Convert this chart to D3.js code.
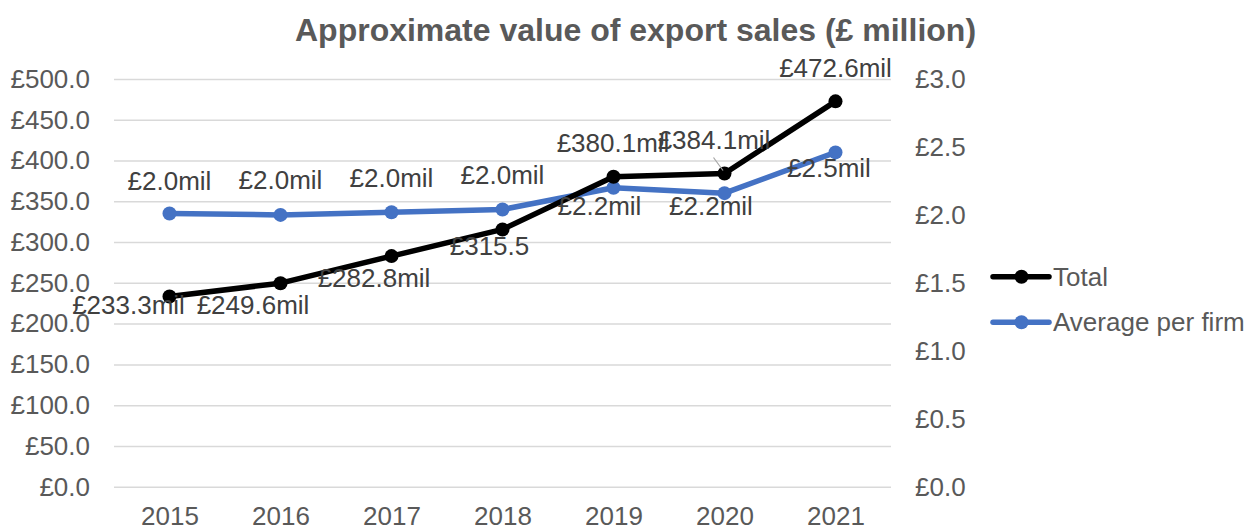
<!DOCTYPE html>
<html>
<head>
<meta charset="utf-8">
<script src="https://cdn.jsdelivr.net/npm/d3@7/dist/d3.min.js"></script>
<style>
  html, body { margin: 0; padding: 0; background: #fff; }
  svg { display: block; font-family: "Liberation Sans", Arial, sans-serif; }
</style>
</head>
<body>
<svg id="chart" width="1256" height="530"></svg>
<script>
// ---- data ----
const years = ["2015", "2016", "2017", "2018", "2019", "2020", "2021"];
const totalValues = [233.3, 249.6, 282.8, 315.5, 380.1, 384.1, 472.6];
const totalLabels = ["£233.3mil", "£249.6mil", "£282.8mil", "£315.5", "£380.1mil", "£384.1mil", "£472.6mil"];
const averageValues = [2.01, 2.0, 2.02, 2.04, 2.2, 2.16, 2.46];
const averageLabels = ["£2.0mil", "£2.0mil", "£2.0mil", "£2.0mil", "£2.2mil", "£2.2mil", "£2.5mil"];
const leftTicks = [0, 50, 100, 150, 200, 250, 300, 350, 400, 450, 500];
const rightTicks = [0, 0.5, 1.0, 1.5, 2.0, 2.5, 3.0];
const seriesNames = ["Total", "Average per firm"];

// ---- label placement (manual, as in the original) ----
const totalLabelOffsets = [[-41, 17.5], [-27.5, 31], [-17.5, 30.6], [-13, 25.6], [-0.5, -25], [-10.5, -25], [0, -24]];
const avgLabelOffsets = [[0, -24], [0, -26], [0, -25.5], [0, -25], [-14, 27], [-13.5, 22], [-6.5, 24.6]];

const svg = d3.select("#chart");
const plot = { left: 114, right: 891, top: 79, bottom: 486.7 };
const textColor = "#595959";
const labelColor = "#404040";
const black = "#000000";
const blue = "#4472C4";

const x = d3.scalePoint().domain(years).range([plot.left, plot.right]).padding(0.5);
const y0 = d3.scaleLinear().domain([0, 500]).range([plot.bottom, plot.top]);
const y1 = d3.scaleLinear().domain([0, 3]).range([plot.bottom, plot.top]);

// title
svg.append("text")
  .attr("x", 635.5).attr("y", 41)
  .attr("text-anchor", "middle")
  .attr("font-size", 32).attr("font-weight", "bold")
  .attr("fill", textColor)
  .text("Approximate value of export sales (£ million)");

// gridlines + left axis
const leftAxis = d3.axisLeft(y0).tickValues(leftTicks)
  .tickSize(-(plot.right - plot.left)).tickPadding(24)
  .tickFormat(d => "£" + d.toFixed(1));
const gL = svg.append("g").attr("transform", `translate(${plot.left},0)`).call(leftAxis);
gL.select(".domain").remove();
gL.selectAll(".tick line").attr("stroke", "#d9d9d9").attr("stroke-width", 1.5);
gL.selectAll(".tick text").attr("fill", textColor).attr("font-size", 26)
  .attr("font-family", "Liberation Sans, Arial, sans-serif");

// right axis
const rightAxis = d3.axisRight(y1).tickValues(rightTicks)
  .tickSize(0).tickPadding(24)
  .tickFormat(d => "£" + d.toFixed(1));
const gR = svg.append("g").attr("transform", `translate(${plot.right},0)`).call(rightAxis);
gR.select(".domain").remove();
gR.selectAll(".tick text").attr("fill", textColor).attr("font-size", 26)
  .attr("font-family", "Liberation Sans, Arial, sans-serif");

// x axis
const xAxis = d3.axisBottom(x).tickSize(0).tickPadding(19.5);
const gX = svg.append("g").attr("transform", `translate(0,${plot.bottom})`).call(xAxis);
gX.select(".domain").remove();
gX.selectAll(".tick text").attr("fill", textColor).attr("font-size", 26)
  .attr("font-family", "Liberation Sans, Arial, sans-serif");

// lines
function drawSeries(values, yScale, color) {
  const line = d3.line().x((d, i) => x(years[i])).y(d => yScale(d));
  svg.append("path").datum(values)
    .attr("d", line).attr("fill", "none")
    .attr("stroke", color).attr("stroke-width", 5.5)
    .attr("stroke-linejoin", "round");
  svg.append("g").selectAll("circle").data(values).join("circle")
    .attr("cx", (d, i) => x(years[i])).attr("cy", d => yScale(d))
    .attr("r", 7).attr("fill", color);
}
drawSeries(averageValues, y1, blue);
drawSeries(totalValues, y0, black);

// leader line for 2020 total label
svg.append("line")
  .attr("x1", x("2020") - 1.5).attr("y1", y0(totalValues[5]) - 3)
  .attr("x2", x("2020") - 11).attr("y2", y0(totalValues[5]) - 16)
  .attr("stroke", "#a6a6a6").attr("stroke-width", 1.2);

// data labels
function drawLabels(values, yScale, labels, offsets) {
  svg.append("g").selectAll("text").data(values).join("text")
    .attr("x", (d, i) => x(years[i]) + offsets[i][0])
    .attr("y", (d, i) => yScale(d) + offsets[i][1])
    .attr("text-anchor", "middle")
    .attr("font-size", 26).attr("fill", labelColor)
    .text((d, i) => labels[i]);
}
drawLabels(averageValues, y1, averageLabels, avgLabelOffsets);
drawLabels(totalValues, y0, totalLabels, totalLabelOffsets);

// legend
const legendColors = [black, blue];
const legendY = [276.7, 322.3];
const lg = svg.append("g");
seriesNames.forEach((name, i) => {
  lg.append("line").attr("x1", 993).attr("x2", 1049)
    .attr("y1", legendY[i]).attr("y2", legendY[i])
    .attr("stroke", legendColors[i]).attr("stroke-width", 5.5).attr("stroke-linecap", "round");
  lg.append("circle").attr("cx", 1021.5).attr("cy", legendY[i]).attr("r", 7).attr("fill", legendColors[i]);
  lg.append("text").attr("x", 1053).attr("y", legendY[i]).attr("dy", "0.35em")
    .attr("font-size", 26).attr("fill", textColor).text(name);
});
</script>
</body>
</html>
